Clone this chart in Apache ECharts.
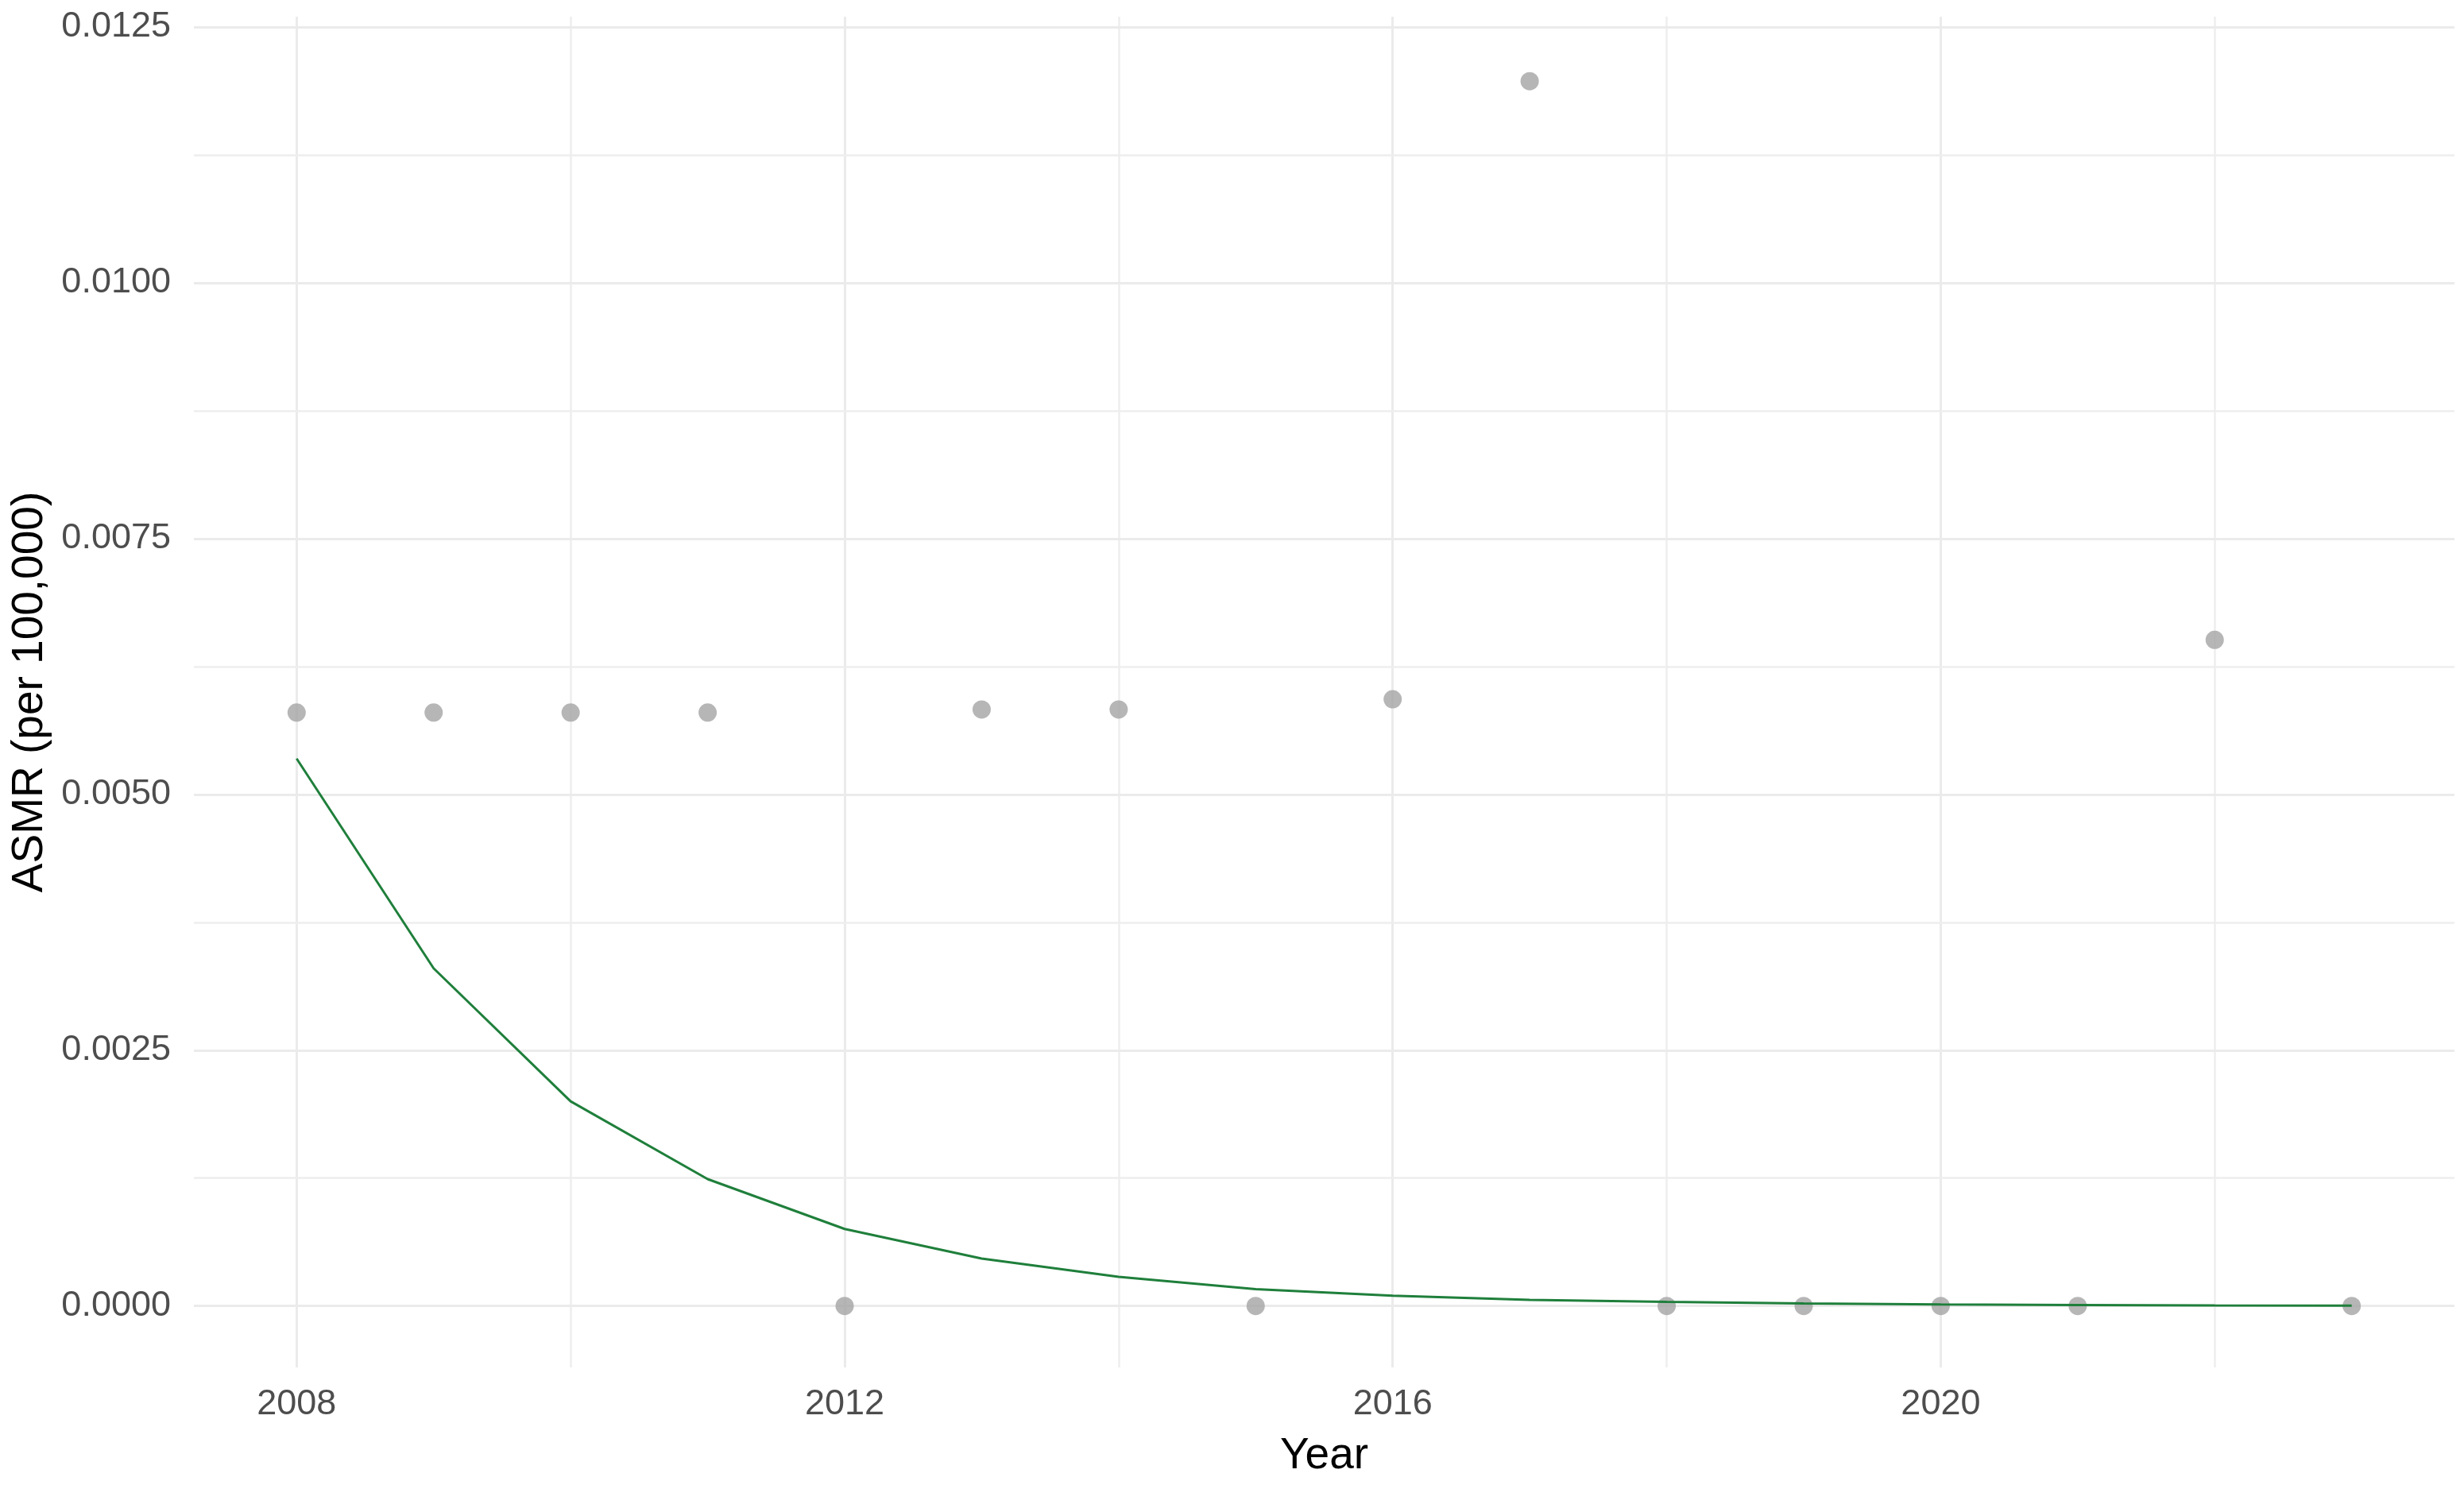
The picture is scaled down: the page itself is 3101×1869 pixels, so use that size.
<!DOCTYPE html>
<html>
<head>
<meta charset="utf-8">
<script src="https://cdn.jsdelivr.net/npm/echarts@6/dist/echarts.min.js"></script>
<style>
html,body{margin:0;padding:0;background:#ffffff;}
#main{width:3101px;height:1869px;}
</style>
</head>
<body>
<div id="main"></div>
<script>
// ---- data ----
const years = [2008, 2009, 2010, 2011, 2012, 2013, 2014, 2015, 2016, 2017, 2018, 2019, 2020, 2021, 2022, 2023];
const observedASMR = [0.0058, 0.0058, 0.0058, 0.0058, 0, 0.00583, 0.00583, 0, 0.00593, 0.01197, 0, 0, 0, 0, 0.00651, 0];
const fittedASMR = [0.00535, 0.0033, 0.002, 0.00124, 0.000753, 0.000464, 0.000286, 0.000165, 0.0001, 0.00006, 0.00004, 0.000025, 0.000015, 0.00001, 0.000006, 0.000004];
const xTickValues = [2008, 2012, 2016, 2020];
const xMinorGrid = [2010, 2014, 2018, 2022];
const yTickValues = [0, 0.0025, 0.005, 0.0075, 0.01, 0.0125];
const yTickLabels = ['0.0000', '0.0025', '0.0050', '0.0075', '0.0100', '0.0125'];
const yMinorGrid = [0.00125, 0.00375, 0.00625, 0.00875, 0.01125];
const xTitle = 'Year';
const yTitle = 'ASMR (per 100,000)';

const FONT = "'Liberation Sans', Arial, sans-serif";
const chart = echarts.init(document.getElementById('main'), null, {renderer: 'canvas'});

function near(a, b, tol) { return Math.abs(a - b) < tol; }

const gridMajor = {color: '#ebebeb', width: 3, type: 'solid'};
const gridMinor = {color: '#eeeeee', width: 2.5, type: 'solid'};
const gridLines = []
  .concat(xTickValues.map(v => ({xAxis: v, lineStyle: gridMajor})))
  .concat(xMinorGrid.map(v => ({xAxis: v, lineStyle: gridMinor})))
  .concat(yTickValues.map(v => ({yAxis: v, lineStyle: gridMajor})))
  .concat(yMinorGrid.map(v => ({yAxis: v, lineStyle: gridMinor})));

const option = {
  backgroundColor: '#ffffff',
  animation: false,
  grid: {left: 244, right: 12, top: 21, bottom: 148, containLabel: false},
  xAxis: {
    type: 'value',
    min: 2007.25,
    max: 2023.75,
    interval: 0.25,
    name: xTitle,
    nameLocation: 'middle',
    nameGap: 84,
    nameTextStyle: {fontFamily: FONT, fontSize: 55, color: '#000000', lineHeight: 56},
    axisLine: {show: false},
    axisTick: {show: false},
    axisLabel: {
      fontFamily: FONT, fontSize: 45, color: '#4d4d4d', margin: 24, lineHeight: 46,
      formatter: function (v) {
        for (let i = 0; i < xTickValues.length; i++) if (near(v, xTickValues[i], 1e-6)) return String(xTickValues[i]);
        return '';
      }
    },
    splitLine: {show: false}
  },
  yAxis: {
    type: 'value',
    min: -0.0006,
    max: 0.0126,
    interval: 0.0001,
    name: yTitle,
    nameLocation: 'middle',
    nameGap: 178,
    nameRotate: 90,
    nameTextStyle: {fontFamily: FONT, fontSize: 55, color: '#000000', lineHeight: 56},
    axisLine: {show: false},
    axisTick: {show: false},
    axisLabel: {
      fontFamily: FONT, fontSize: 45, color: '#4d4d4d', margin: 29,
      formatter: function (v) {
        for (let i = 0; i < yTickValues.length; i++) if (near(v, yTickValues[i], 1e-8)) return yTickLabels[i];
        return '';
      }
    },
    splitLine: {show: false}
  },
  series: [
    {
      name: 'grid',
      type: 'line',
      data: [],
      silent: true,
      z: 0,
      markLine: {
        silent: true,
        z: 0,
        precision: 8,
        symbol: ['none', 'none'],
        label: {show: false},
        emphasis: {disabled: true},
        animation: false,
        data: gridLines
      }
    },
    {
      name: 'Observed',
      type: 'scatter',
      data: years.map((y, i) => [y, observedASMR[i]]),
      symbol: 'circle',
      symbolSize: 23,
      itemStyle: {color: '#a4a4a4'},
      z: 10
    },
    {
      name: 'Fitted',
      type: 'line',
      data: years.map((y, i) => [y, fittedASMR[i]]),
      showSymbol: false,
      symbol: 'none',
      smooth: false,
      lineStyle: {color: '#1f7f3b', width: 3},
      z: 20
    }
  ]
};
chart.setOption(option);
</script>
</body>
</html>
